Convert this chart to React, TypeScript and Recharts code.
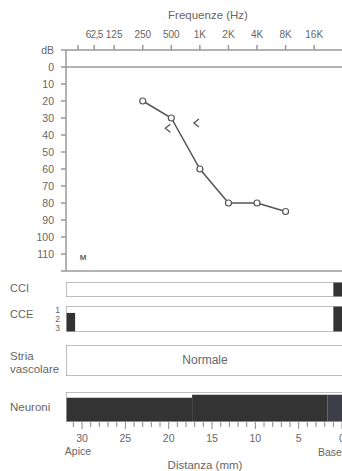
import React from 'react';
import { ComposedChart, Line, Area, XAxis, YAxis, ReferenceLine } from 'recharts';

// audiogram data (Hz, dB HL)
const airFreq = [250, 500, 1000, 2000, 4000, 8000];
const airDb = [20, 30, 60, 80, 80, 85];
const boneFreq = [500, 1000];
const boneDb = [36, 33];

const freqTicks = [52, 77, 125, 250, 500, 1000, 2000, 4000, 8000, 16000];
const freqTickLabels = ['', '62,5', '125', '250', '500', '1K', '2K', '4K', '8K', '16K'];
const dbTicks = [-10, 0, 10, 20, 30, 40, 50, 60, 70, 80, 90, 100, 110, 120];
const dbTickLabels = ['dB', '0', '10', '20', '30', '40', '50', '60', '70', '80', '90', '100', '110', ''];

// cochlea panels, distance from base in mm
const cciLoss = [{ from: 1, to: 0, row1: 0, row2: 1 }];
const cceLoss = [
  { from: 31.85, to: 30.8, row1: 0.8, row2: 3 },
  { from: 1, to: 0, row1: 0, row2: 3 },
];
const cceRows = ['1', '2', '3'];
const striaText = 'Normale';
const neuronFrom = [31.85, 17.3, 1.7];
const neuronTo = [17.3, 1.7, 0];
const neuronLevel = [80, 90, 90];
const mmTicks = Array.from({ length: 32 }, (_, i) => i);

const FONT = '"Liberation Sans", Arial, sans-serif';
const GRAY = '#999';
const TXT = '#666';
const MM_DOMAIN: [number, number] = [-0.92, 31.85];

const airData = airFreq.map((f, i) => ({ x: Math.log2(f), db: airDb[i] }));
const boneData = boneFreq.map((f, i) => ({ x: Math.log2(f), db: boneDb[i] }));

// rectangle outline of a panel, drawn as a closed line
const boxData = (top: number) => [
  { mm: MM_DOMAIN[1], y: 0 },
  { mm: MM_DOMAIN[0], y: 0 },
  { mm: MM_DOMAIN[0], y: top },
  { mm: MM_DOMAIN[1], y: top },
  { mm: MM_DOMAIN[1], y: 0 },
];
const segData = (from: number, to: number, lo: number, hi: number) => [
  { mm: from, v: [lo, hi] },
  { mm: to, v: [lo, hi] },
];

const BoneDot = (props: any) => {
  const { cx, cy } = props;
  if (cx == null || cy == null) return null;
  return (
    <path
      d={`M${cx - 1},${cy - 4} L${cx - 6},${cy} L${cx - 1},${cy + 4}`}
      fill="none"
      stroke="#555"
      strokeWidth={1.3}
    />
  );
};

const FreqTick = (props: any) => {
  const { x, y, index } = props;
  const label = freqTickLabels[index] ?? '';
  return (
    <text
      x={x}
      y={y}
      textAnchor="middle"
      fontSize={10}
      fill={TXT}
      fontFamily={FONT}
      letterSpacing={label.includes(',') ? -0.6 : 0}
    >
      {label}
    </text>
  );
};

const MmTick = (props: any) => {
  const { x, y, payload } = props;
  const major = payload.value % 5 === 0;
  return (
    <g>
      <line x1={x} x2={x} y1={y} y2={y + (major ? 7 : 5)} stroke="#888" strokeWidth={1} />
      {major && (
        <text x={x} y={y + 16} dy="0.355em" textAnchor="middle" fontSize={10.5} fill={TXT} fontFamily={FONT}>
          {payload.value}
        </text>
      )}
    </g>
  );
};

function Panel({ top, height, rows, rowLabels, segments }: any) {
  return (
    <div style={{ position: 'absolute', left: 0, top: top - 2 }}>
      <ComposedChart width={350} height={height + 4} margin={{ top: 2, left: rowLabels ? 65 : 66, right: 0, bottom: 2 }}>
        <XAxis type="number" dataKey="mm" hide domain={MM_DOMAIN} allowDataOverflow reversed />
        <YAxis
          type="number"
          hide={!rowLabels}
          width={1}
          domain={[0, rows]}
          allowDataOverflow
          reversed
          ticks={rowLabels ? rowLabels.map((_: string, i: number) => i + 0.5) : undefined}
          tickFormatter={(v: number) => (rowLabels ? rowLabels[Math.floor(v)] : '')}
          interval={0}
          axisLine={false}
          tickLine={false}
          tickSize={0}
          tickMargin={6}
          tick={{ fontSize: 8.5, fill: TXT, fontFamily: FONT }}
        />
        <Line data={boxData(rows)} dataKey="y" stroke="#aaa" strokeWidth={1.5} dot={false} activeDot={false} isAnimationActive={false} />
        {segments.map((s: any, i: number) => (
          <Area
            key={i}
            data={segData(s.from, s.to, s.row1, s.row2)}
            dataKey="v"
            type="linear"
            stroke="none"
            fill="#333"
            fillOpacity={1}
            dot={false}
            activeDot={false}
            isAnimationActive={false}
          />
        ))}
      </ComposedChart>
    </div>
  );
}

export default function App() {
  return (
    <div style={{ position: 'fixed', left: 0, top: 0, width: 342, height: 471, overflow: 'hidden', background: '#fff' }}>
      {/* audiogram */}
      <div style={{ position: 'absolute', left: 0, top: 0 }}>
        <ComposedChart width={350} height={280} margin={{ top: 49, left: 65, right: 0, bottom: 9 }}>
          <XAxis
            type="number"
            dataKey="x"
            orientation="top"
            height={1}
            domain={[5.28, 15.22]}
            ticks={freqTicks.map((f) => Math.log2(f))}
            interval={0}
            tickSize={5}
            tickMargin={7}
            stroke={GRAY}
            strokeWidth={1.5}
            tick={<FreqTick />}
          />
          <YAxis
            type="number"
            dataKey="db"
            width={1}
            domain={[-10, 120]}
            reversed
            ticks={dbTicks}
            tickFormatter={(v: number) => dbTickLabels[dbTicks.indexOf(v)] ?? ''}
            interval={0}
            tickSize={5}
            tickMargin={7}
            stroke={GRAY}
            strokeWidth={1.5}
            tick={{ fontSize: 10.5, fill: TXT, fontFamily: FONT }}
          />
          <ReferenceLine y={0} stroke={GRAY} strokeWidth={1.5} />
          <ReferenceLine y={120} stroke={GRAY} strokeWidth={1.5} />
          <Line
            data={airData}
            dataKey="db"
            stroke="#555"
            strokeWidth={1.5}
            dot={{ r: 3, fill: '#fff', stroke: '#555', strokeWidth: 1.2 }}
            activeDot={false}
            isAnimationActive={false}
          />
          <Line data={boneData} dataKey="db" stroke="none" dot={<BoneDot />} activeDot={false} isAnimationActive={false} />
        </ComposedChart>
      </div>

      {/* CCI */}
      <Panel top={282} height={15} rows={1} segments={cciLoss} />

      {/* CCE */}
      <Panel top={306} height={26} rows={3} rowLabels={cceRows} segments={cceLoss} />

      {/* Stria vascolare */}
      <Panel top={345} height={31} rows={1} segments={[]} />

      {/* Neuroni */}
      <div style={{ position: 'absolute', left: 0, top: 390 }}>
        <ComposedChart width={350} height={73} margin={{ top: 2, left: 66, right: 0, bottom: 40 }}>
          <XAxis
            type="number"
            dataKey="mm"
            height={1}
            domain={MM_DOMAIN}
            allowDataOverflow
            reversed
            ticks={mmTicks}
            interval={0}
            axisLine={false}
            tickLine={false}
            tickSize={0}
            tickMargin={0}
            tick={<MmTick />}
          />
          <YAxis type="number" hide domain={[0, 100]} allowDataOverflow />
          <Line data={boxData(100)} dataKey="y" stroke="#aaa" strokeWidth={1.5} dot={false} activeDot={false} isAnimationActive={false} />
          {neuronFrom.map((f, i) => (
            <Area
              key={i}
              data={segData(f, neuronTo[i], 0, neuronLevel[i])}
              dataKey="v"
              type="linear"
              stroke={i === 2 ? '#3e3e48' : '#333'}
              strokeWidth={0.5}
              fill={i === 2 ? '#3e3e48' : '#333'}
              fillOpacity={1}
              dot={false}
              activeDot={false}
              isAnimationActive={false}
            />
          ))}
        </ComposedChart>
      </div>

      {/* free text */}
      <svg width={342} height={471} style={{ position: 'absolute', left: 0, top: 0, pointerEvents: 'none' }} fontFamily={FONT} fill={TXT}>
        <text x={208} y={15} dy="0.355em" textAnchor="middle" fontSize={11.5}>Frequenze (Hz)</text>
        <text x={83} y={257} dy="0.355em" textAnchor="middle" fontSize={8} fontWeight="bold" fill="#666">M</text>
        <text x={10} y={288} dy="0.355em" fontSize={11}>CCI</text>
        <text x={10} y={314} dy="0.355em" fontSize={11}>CCE</text>
        <text x={10} y={356} dy="0.355em" fontSize={11.5}>Stria</text>
        <text x={10} y={369} dy="0.355em" fontSize={11.5}>vascolare</text>
        <text x={205} y={360} dy="0.355em" textAnchor="middle" fontSize={12}>{striaText}</text>
        <text x={10} y={407} dy="0.355em" fontSize={11.5}>Neuroni</text>
        <text x={78} y={451} dy="0.355em" textAnchor="middle" fontSize={10.5}>Apice</text>
        <text x={318} y={452} dy="0.355em" fontSize={10.5}>Base</text>
        <text x={205} y={465} dy="0.355em" textAnchor="middle" fontSize={11.5}>Distanza (mm)</text>
      </svg>
    </div>
  );
}
